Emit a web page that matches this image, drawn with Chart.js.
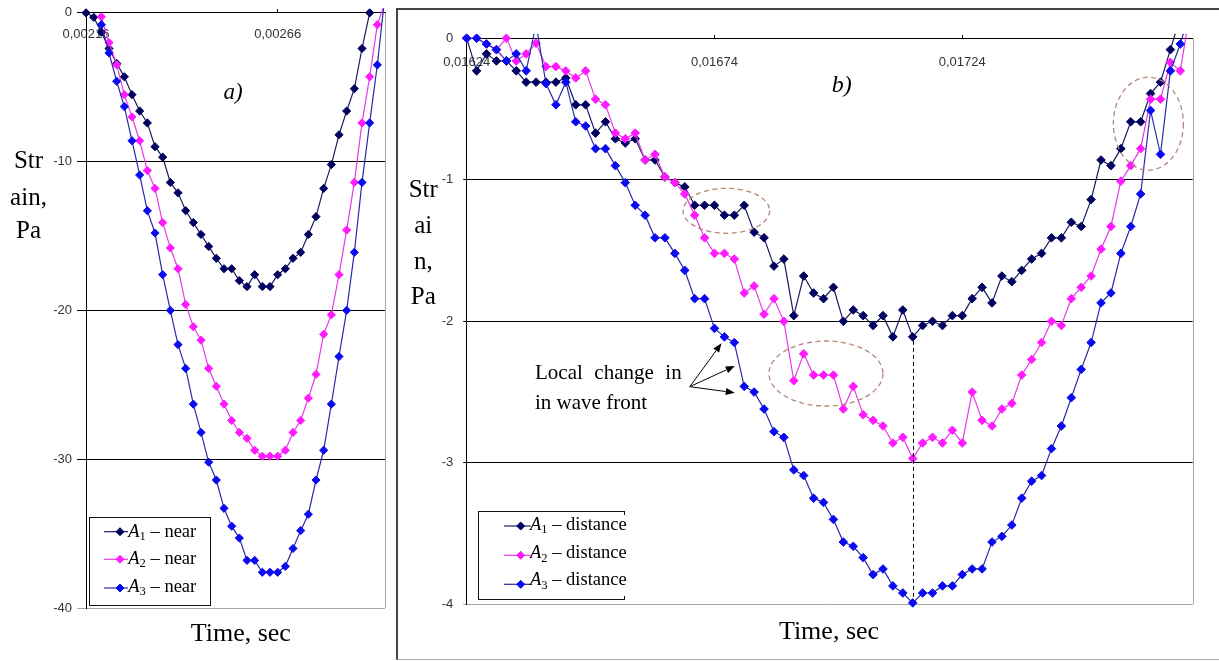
<!DOCTYPE html>
<html><head><meta charset="utf-8">
<script src="https://cdn.jsdelivr.net/npm/chart.js@4.4.1/dist/chart.umd.min.js"></script>
<style>
html,body{margin:0;padding:0;background:#fff;}
#wrap{position:relative;width:1219px;height:661px;overflow:hidden;background:#fff;font-family:"Liberation Serif","Times New Roman",serif;color:#000;}
canvas{position:absolute;}
#cA{left:0;top:0;}
#cB{left:400px;top:0;}
.t{position:absolute;white-space:nowrap;line-height:1;z-index:5;}
.ttl{font-size:25px;width:60px;text-align:center;}
.xt{font-size:26px;width:160px;text-align:center;}
.lab{font-size:23px;font-style:italic;width:60px;text-align:center;}
.note{font-size:21px;}
.leg{font-size:18.5px;}
.sub{font-size:0.68em;position:relative;top:0.28em;line-height:0;}
.box{position:absolute;box-sizing:border-box;z-index:4;}
</style></head>
<body>
<div id="wrap">
<canvas id="cA" width="392" height="661"></canvas>
<canvas id="cB" width="819" height="661"></canvas>

<div class="box" style="left:396px;top:8px;width:900px;height:652px;border-left:2px solid #444;border-top:2px solid #444;border-bottom:1px solid #aaa;"></div>

<div class="box" style="left:89px;top:517px;width:122px;height:89px;border:1.5px solid #111;"></div>
<div class="box" style="left:478px;top:511px;width:147px;height:89px;border-top:1.5px solid #111;border-left:1.5px solid #111;border-bottom:1.5px solid #111;"></div>
<div class="box" style="left:623.5px;top:511px;width:1.5px;height:4px;background:#111;"></div>
<div class="box" style="left:623.5px;top:596px;width:1.5px;height:4px;background:#111;"></div>

<div class="t ttl" style="left:-1.5px;top:147.1px">Str</div>
<div class="t ttl" style="left:-1.5px;top:184.1px">ain,</div>
<div class="t ttl" style="left:-1.5px;top:217.1px">Pa</div>

<div class="t ttl" style="left:393.3px;top:176.1px">Str</div>
<div class="t ttl" style="left:393.3px;top:212.1px">ai</div>
<div class="t ttl" style="left:393.3px;top:248.1px">n,</div>
<div class="t ttl" style="left:393.3px;top:283.1px">Pa</div>

<div class="t xt" style="left:160.8px;top:620.2px">Time, sec</div>
<div class="t xt" style="left:749px;top:618.2px">Time, sec</div>

<div class="t lab" style="left:203px;top:79.7px">a)</div>
<div class="t lab" style="left:811.7px;top:71.9px;font-size:24px">b)</div>

<div class="t note" style="left:535px;top:362.4px;word-spacing:6.3px">Local change in</div>
<div class="t note" style="left:535px;top:391.7px">in wave front</div>

<div class="t leg" style="left:128.3px;top:521.8px"><i>A</i><span class="sub">1</span> – near</div>
<div class="t leg" style="left:128.3px;top:548.8px"><i>A</i><span class="sub">2</span> – near</div>
<div class="t leg" style="left:128.3px;top:576.8px"><i>A</i><span class="sub">3</span> – near</div>

<div class="t leg" style="left:530px;top:514.8px"><i>A</i><span class="sub">1</span> – distance</div>
<div class="t leg" style="left:530px;top:543.2px"><i>A</i><span class="sub">2</span> – distance</div>
<div class="t leg" style="left:530px;top:570.2px"><i>A</i><span class="sub">3</span> – distance</div>
</div>

<script>
// ---------- Panel a) data ----------
const TIME_A = [0.00216,0.00218,0.00220,0.00222,0.00224,0.00226,0.00228,0.00230,0.00232,0.00234,
  0.00236,0.00238,0.00240,0.00242,0.00244,0.00246,0.00248,0.00250,0.00252,0.00254,
  0.00256,0.00258,0.00260,0.00262,0.00264,0.00266,0.00268,0.00270,0.00272,0.00274,
  0.00276,0.00278,0.00280,0.00282,0.00284,0.00286,0.00288,0.00290,0.00292,0.00294];
const A1_NEAR = [0,-0.3,-1.3,-2.4,-3.4,-4.3,-5.5,-6.6,-7.4,-9.0,
  -9.7,-11.4,-12.1,-13.3,-14.1,-14.9,-15.7,-16.5,-17.2,-17.2,
  -18.0,-18.4,-17.6,-18.4,-18.4,-17.6,-17.2,-16.5,-16.1,-14.9,
  -13.7,-11.8,-10.2,-8.2,-6.6,-5.1,-2.4,0,null,null];
const A2_NEAR = [null,null,-0.27,-2.0,-3.5,-5.5,-7.0,-8.6,-10.6,-11.8,
  -14.1,-15.8,-17.2,-19.6,-21.1,-22.0,-23.9,-25.1,-26.3,-27.4,
  -28.2,-28.6,-29.4,-29.8,-29.8,-29.8,-29.4,-28.2,-27.4,-25.9,
  -24.3,-21.6,-20.3,-17.6,-14.6,-11.4,-7.4,-4.3,-0.8,0.7];
const A3_NEAR = [null,null,-0.8,-2.7,-4.6,-6.3,-8.6,-10.9,-13.3,-14.8,
  -17.6,-20.0,-22.3,-23.9,-26.3,-28.2,-30.2,-31.4,-33.3,-34.5,
  -35.3,-36.8,-36.8,-37.6,-37.6,-37.6,-37.2,-36.0,-34.8,-33.7,
  -31.4,-29.4,-26.3,-23.1,-20.0,-16.1,-11.4,-7.4,-3.5,1.2];
const X_TICKS_A = [0.00216, 0.00266];
const Y_TICKS_A = [0, -10, -20, -30, -40];

// ---------- Panel b) data ----------
const TIME_B = [0.01624,0.01626,0.01628,0.01630,0.01632,0.01634,0.01636,0.01638,0.01640,0.01642,
  0.01644,0.01646,0.01648,0.01650,0.01652,0.01654,0.01656,0.01658,0.01660,0.01662,
  0.01664,0.01666,0.01668,0.01670,0.01672,0.01674,0.01676,0.01678,0.01680,0.01682,
  0.01684,0.01686,0.01688,0.01690,0.01692,0.01694,0.01696,0.01698,0.01700,0.01702,
  0.01704,0.01706,0.01708,0.01710,0.01712,0.01714,0.01716,0.01718,0.01720,0.01722,
  0.01724,0.01726,0.01728,0.01730,0.01732,0.01734,0.01736,0.01738,0.01740,0.01742,
  0.01744,0.01746,0.01748,0.01750,0.01752,0.01754,0.01756,0.01758,0.01760,0.01762,
  0.01764,0.01766,0.01768,0.01770];
const A1_DIST = [0,-0.23,-0.11,-0.16,-0.16,-0.23,-0.31,-0.31,-0.31,-0.31,
  -0.28,-0.47,-0.47,-0.67,-0.59,-0.71,-0.74,-0.71,-0.86,-0.86,
  -0.98,-1.02,-1.05,-1.18,-1.18,-1.18,-1.25,-1.25,-1.18,-1.37,
  -1.41,-1.61,-1.56,-1.96,-1.68,-1.80,-1.84,-1.76,-2.00,-1.92,
  -1.96,-2.03,-1.96,-2.11,-1.92,-2.11,-2.03,-2.00,-2.03,-1.96,
  -1.96,-1.84,-1.76,-1.87,-1.68,-1.72,-1.64,-1.56,-1.52,-1.41,
  -1.41,-1.30,-1.33,-1.14,-0.86,-0.90,-0.78,-0.59,-0.59,-0.39,
  -0.31,-0.08,0.15,0.30];
const A2_DIST = [0,0,-0.04,-0.08,0,-0.16,-0.11,-0.035,-0.20,-0.20,
  -0.23,-0.28,-0.23,-0.43,-0.47,-0.67,-0.71,-0.67,-0.86,-0.82,
  -0.98,-1.02,-1.10,-1.25,-1.41,-1.52,-1.52,-1.56,-1.80,-1.75,
  -1.95,-1.84,-2.00,-2.42,-2.23,-2.38,-2.38,-2.38,-2.62,-2.46,
  -2.66,-2.70,-2.74,-2.86,-2.82,-2.97,-2.86,-2.82,-2.86,-2.77,
  -2.86,-2.50,-2.70,-2.74,-2.62,-2.58,-2.38,-2.27,-2.15,-2.00,
  -2.03,-1.84,-1.76,-1.68,-1.49,-1.33,-1.01,-0.90,-0.78,-0.43,
  -0.43,-0.17,-0.23,0.20];
const A3_DIST = [0,0,-0.04,-0.08,-0.16,-0.11,-0.23,0.10,-0.32,-0.47,
  -0.31,-0.59,-0.62,-0.78,-0.78,-0.90,-1.02,-1.18,-1.25,-1.41,
  -1.41,-1.52,-1.64,-1.84,-1.84,-2.05,-2.11,-2.15,-2.46,-2.50,
  -2.62,-2.78,-2.82,-3.05,-3.09,-3.25,-3.28,-3.40,-3.56,-3.59,
  -3.67,-3.79,-3.75,-3.87,-3.92,-3.99,-3.92,-3.92,-3.87,-3.87,
  -3.79,-3.75,-3.75,-3.56,-3.52,-3.44,-3.25,-3.13,-3.09,-2.90,
  -2.74,-2.54,-2.34,-2.15,-1.87,-1.80,-1.52,-1.33,-1.10,-0.51,
  -0.82,-0.23,-0.04,0.20];
const X_TICKS_B = [0.01624, 0.01674, 0.01724];
const Y_TICKS_B = [0, -1, -2, -3, -4];

// ---------- styles ----------
const COL = {
  A1: {line:'#1b1b5e', point:'#00005e'},
  A2: {line:'#e63ae6', point:'#ff1aff'},
  A3: {line:'#2a2aa6', point:'#0a0af0'}
};

Chart.defaults.font.family = '"Liberation Sans", Arial, sans-serif';

function pts(times, vals){ return times.map((t,i)=>({x:t, y:(vals[i]===undefined?null:vals[i])})); }
function ds(label, times, vals, col, order, r){
  return {label, data:pts(times, vals), borderColor:col.line, backgroundColor:col.point,
    pointBackgroundColor:col.point, pointBorderColor:col.point, pointStyle:'rectRot',
    pointRadius:r, pointHoverRadius:r, pointBorderWidth:1, borderWidth:1.2, tension:0,
    order, clip:{left:5, top:4.5, right:5, bottom:5}, spanGaps:false};
}
function diamond(ctx, x, y, r, c){
  ctx.beginPath(); ctx.moveTo(x-r,y); ctx.lineTo(x,y-r); ctx.lineTo(x+r,y); ctx.lineTo(x,y+r); ctx.closePath();
  ctx.fillStyle=c; ctx.fill(); ctx.strokeStyle=c; ctx.lineWidth=1; ctx.stroke();
}

const decor = {
  id:'decor',
  beforeDatasetsDraw(chart){
    const ctx=chart.ctx, a=chart.chartArea;
    ctx.save(); ctx.strokeStyle='#a6a6a6'; ctx.lineWidth=1;
    const xr=Math.round(a.right)+0.5;
    ctx.beginPath(); ctx.moveTo(xr,a.top); ctx.lineTo(xr,a.bottom); ctx.stroke();
    ctx.restore();
  },
  afterDraw(chart, args, o){
    if(!o || !o.items) return;
    const ctx=chart.ctx;
    ctx.save();
    o.items.forEach(it=>{
      ctx.strokeStyle=it.col.line; ctx.lineWidth=1.2;
      ctx.beginPath(); ctx.moveTo(it.x1,it.y); ctx.lineTo(it.x2,it.y); ctx.stroke();
      diamond(ctx, it.xm, it.y, 4, it.col.point);
    });
    ctx.restore();
  }
};

// annotation geometry for panel b (in data coordinates)
const ELLIPSES_B = [
  {t:0.016764, v:-1.219, rt:0.0000874, rv:0.159},
  {t:0.016965, v:-2.369, rt:0.000115, rv:0.2297},
  {t:0.0176156, v:-0.6035, rt:0.0000706, rv:0.3286}
];
const ARROWS_B = {from:{t:0.0166902, v:-2.462}, to:[{t:0.0167542,v:-2.155},{t:0.016781,v:-2.316},{t:0.016781,v:-2.505}]};

const annot = {
  id:'annot',
  afterDatasetsDraw(chart){
    const ctx=chart.ctx, xs=chart.scales.x, ys=chart.scales.y;
    ctx.save();
    const iMin = A3_DIST.indexOf(Math.min(...A3_DIST));
    const xv = Math.round(xs.getPixelForValue(TIME_B[iMin]))+0.5;
    ctx.setLineDash([4,3]); ctx.strokeStyle='#000'; ctx.lineWidth=1;
    ctx.beginPath(); ctx.moveTo(xv, ys.getPixelForValue(A1_DIST[iMin])+4); ctx.lineTo(xv, ys.getPixelForValue(A3_DIST[iMin])-4); ctx.stroke();
    ctx.setLineDash([5,3.5]); ctx.strokeStyle='#b58676'; ctx.lineWidth=1.3;
    ELLIPSES_B.forEach(e=>{
      const cx=xs.getPixelForValue(e.t), cy=ys.getPixelForValue(e.v);
      const rx=Math.abs(xs.getPixelForValue(e.t+e.rt)-cx), ry=Math.abs(ys.getPixelForValue(e.v+e.rv)-cy);
      ctx.beginPath(); ctx.ellipse(cx,cy,rx,ry,0,0,Math.PI*2); ctx.stroke();
    });
    ctx.setLineDash([]); ctx.strokeStyle='#000'; ctx.fillStyle='#000'; ctx.lineWidth=1;
    const x0=xs.getPixelForValue(ARROWS_B.from.t), y0=ys.getPixelForValue(ARROWS_B.from.v);
    ARROWS_B.to.forEach(p=>{
      const x1=xs.getPixelForValue(p.t), y1=ys.getPixelForValue(p.v);
      const ang=Math.atan2(y1-y0,x1-x0), L=9, W=3.6;
      const bx=x1-L*Math.cos(ang), by=y1-L*Math.sin(ang);
      ctx.beginPath(); ctx.moveTo(x0,y0); ctx.lineTo(bx,by); ctx.stroke();
      ctx.beginPath(); ctx.moveTo(x1,y1);
      ctx.lineTo(bx+W*Math.sin(ang), by-W*Math.cos(ang));
      ctx.lineTo(bx-W*Math.sin(ang), by+W*Math.cos(ang));
      ctx.closePath(); ctx.fill();
    });
    ctx.restore();
  }
};

function options(p){
  return {
    responsive:false, animation:false, events:[],
    layout:{padding:p.pad},
    plugins:{legend:{display:false}, tooltip:{enabled:false}, decor:{items:p.legend}},
    scales:{
      x:{type:'linear', position:{y:0}, min:p.xMin, max:p.xMax,
        afterFit:s=>{s.height=0;},
        afterBuildTicks:s=>{s.ticks=p.xTicks.map(v=>({value:v}));},
        ticks:{callback:v=>Number(v).toFixed(5).replace('.',','), padding:p.xPad, color:'#333', font:{size:13}, maxRotation:0, autoSkip:false},
        grid:{display:true, drawOnChartArea:false, drawTicks:true, tickLength:-4, color:'#000'},
        border:{display:true, color:'#000', width:1}
      },
      y:{type:'linear', position:'left', min:p.yMin, max:p.yMax,
        afterFit:s=>{s.width=p.yWidth;},
        afterBuildTicks:s=>{s.ticks=p.yTicks.map(v=>({value:v}));},
        ticks:{color:'#333', font:{size:13}, padding:p.yPad, callback:v=>String(v)},
        grid:{color:c=>(c.tick && c.tick.value===p.yMin)?'#a6a6a6':'#000', tickLength:p.yTickLen, lineWidth:1},
        border:{color:'#000', width:1}
      }
    }
  };
}

new Chart(document.getElementById('cA'), {
  type:'line',
  data:{datasets:[
    ds('A1 – near', TIME_A, A1_NEAR, COL.A1, 2, 4.1),
    ds('A2 – near', TIME_A, A2_NEAR, COL.A2, 1, 4.1),
    ds('A3 – near', TIME_A, A3_NEAR, COL.A3, 0, 4.1)
  ]},
  options:options({pad:{left:0,right:7,top:12,bottom:53}, xMin:0.00216, xMax:0.00294, xTicks:X_TICKS_A, xPad:17.7,
    yMin:-40, yMax:0, yTicks:Y_TICKS_A, yWidth:86, yPad:5, yTickLen:9,
    legend:[{x1:104,x2:128,xm:120,y:531.7,col:COL.A1},{x1:104,x2:128,xm:120,y:559.3,col:COL.A2},{x1:104,x2:128,xm:120,y:588,col:COL.A3}]}),
  plugins:[decor]
});

new Chart(document.getElementById('cB'), {
  type:'line',
  data:{datasets:[
    ds('A1 – distance', TIME_B, A1_DIST, COL.A1, 2, 4.3),
    ds('A2 – distance', TIME_B, A2_DIST, COL.A2, 1, 4.3),
    ds('A3 – distance', TIME_B, A3_DIST, COL.A3, 0, 4.3)
  ]},
  options:options({pad:{left:0,right:26.3,top:38.3,bottom:56.7}, xMin:0.01624, xMax:0.017705, xTicks:X_TICKS_B, xPad:19.9,
    yMin:-4, yMax:0, yTicks:Y_TICKS_B, yWidth:66.7, yPad:10, yTickLen:3.5,
    legend:[{x1:104,x2:130.7,xm:120.7,y:526,col:COL.A1},{x1:104,x2:130.7,xm:120.7,y:555.3,col:COL.A2},{x1:104,x2:130.7,xm:120.7,y:584.3,col:COL.A3}]}),
  plugins:[decor, annot]
});
</script>
</body></html>
